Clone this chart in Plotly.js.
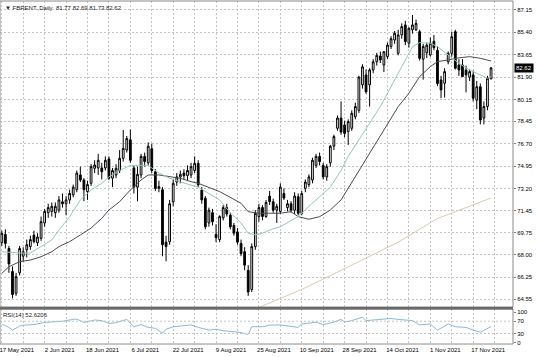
<!DOCTYPE html>
<html><head><meta charset="utf-8">
<script src="https://cdn.plot.ly/plotly-3.0.1.min.js"></script>
<style>html,body{margin:0;padding:0;background:#fff;}#chart{width:536px;height:357px;}</style>
</head><body><div id="chart"></div>
<script>
// ---- data (FBRENT daily, 17 May 2021 - 24 Nov 2021) ----
const openP = [68.96,69.6,68.5,66.7,65.0,66.6,67.9,68.4,68.65,69.55,
68.95,69.3,70.5,71.3,71.4,71.3,71.5,72.15,72.0,72.3,
72.7,73.1,74.25,73.86,72.95,73.6,74.77,74.8,74.8,74.8,
75.5,74.0,74.25,74.6,75.55,76.2,77.0,74.8,73.3,74.25,
75.7,75.2,76.3,74.5,73.2,73.1,69.0,69.04,72.16,73.7,
74.1,74.4,74.2,74.25,74.6,75.16,73.08,72.43,70.5,71.3,
69.6,69.2,70.9,71.7,71.1,70.3,69.8,68.9,68.25,66.8,
65.3,68.65,71.0,71.7,71.0,72.6,72.16,71.5,71.4,72.8,
71.7,72.0,71.5,72.55,71.25,73.2,73.5,73.86,75.0,75.7,
75.0,74.1,75.2,76.5,77.9,78.7,78.16,77.64,77.9,78.8,
79.3,81.3,82.07,81.3,82.46,83.1,83.55,82.85,83.5,84.3,
84.8,83.76,85.2,85.98,84.55,85.6,85.6,85.45,83.3,83.8,
83.63,84.7,84.0,81.68,81.42,83.1,83.76,85.45,82.85,82.85,
82.46,81.9,82.07,80.1,81.15,78.7,79.6,81.77];
const highP = [69.9,70.0,68.7,67.1,66.6,68.7,68.6,69.2,69.5,69.9,
69.7,71.0,71.6,72.0,72.1,72.1,72.6,72.8,72.6,73.1,
73.5,74.6,74.9,74.0,73.8,75.1,75.4,75.9,75.2,75.7,
75.7,74.8,75.1,76.2,77.77,77.3,77.8,75.0,74.9,75.9,
76.0,76.8,76.7,74.7,73.8,73.3,69.5,72.3,73.9,74.4,
74.6,74.7,75.0,75.2,75.7,75.4,73.3,72.6,71.7,71.6,
70.4,71.1,71.9,72.0,71.3,70.5,70.1,69.2,68.6,67.2,
68.9,71.5,72.0,71.9,72.3,73.0,72.4,72.0,73.6,73.2,
72.3,72.2,72.9,72.8,73.0,73.9,74.3,75.6,75.9,76.0,
75.2,75.1,76.6,77.4,78.9,80.0,78.5,78.6,79.3,79.9,
82.0,82.9,82.5,82.6,83.3,83.8,83.9,83.9,84.6,85.1,
85.5,85.6,86.1,86.3,85.8,86.76,86.4,85.6,84.5,84.6,
85.0,85.2,84.3,82.0,82.6,83.9,85.45,85.6,83.3,83.3,
82.8,82.5,82.4,81.6,81.4,80.0,82.0,82.69];
const lowP = [68.7,68.5,66.6,64.6,64.8,66.4,67.5,67.8,68.4,68.9,
68.7,69.1,70.2,70.9,71.0,70.9,71.3,71.7,71.1,72.0,
72.5,72.9,73.7,72.2,72.3,73.4,74.4,74.25,73.9,74.6,
73.86,73.3,74.0,74.4,75.3,76.0,75.2,72.8,72.2,74.0,
74.9,75.0,74.4,73.0,72.9,67.9,67.5,68.8,71.8,73.4,
73.6,73.9,73.8,74.0,74.4,73.3,72.0,70.0,70.2,70.3,
69.0,69.0,70.7,71.0,70.0,69.5,68.8,67.9,66.8,64.8,
65.1,68.4,70.6,70.7,70.9,71.9,71.3,70.5,71.2,72.3,
71.4,71.3,71.2,71.1,71.1,72.9,73.3,73.6,74.8,75.0,
73.9,73.8,74.9,76.2,77.7,77.4,77.2,76.6,77.7,78.6,
79.1,81.0,80.6,79.6,82.2,82.8,83.0,82.3,83.3,84.1,
84.5,83.6,84.9,84.4,84.2,85.3,85.5,83.2,81.7,83.4,
83.5,84.0,81.2,80.25,80.3,82.9,83.5,82.5,82.0,81.9,
80.7,81.6,80.0,79.4,78.2,78.2,79.3,81.73];
const closeP = [69.69,68.9,67.3,64.9,66.3,68.5,68.25,68.8,69.2,69.05,
69.4,70.6,71.4,71.7,71.8,71.8,72.3,72.0,72.3,72.8,
73.3,74.4,73.86,73.1,73.5,74.9,75.03,75.4,74.5,75.4,
74.0,74.6,74.77,75.55,76.33,77.1,75.4,73.3,74.3,75.7,
75.3,76.5,74.6,73.2,73.35,68.8,68.65,72.0,73.6,74.1,
74.3,74.2,74.6,74.9,75.16,73.47,72.3,70.2,71.5,70.6,
69.35,71.0,71.7,71.2,70.2,69.7,69.0,68.1,67.2,65.1,
68.65,71.25,71.7,71.0,72.1,72.16,71.5,71.8,73.3,72.45,
72.0,71.5,72.6,71.25,72.8,73.7,74.1,75.4,75.7,75.3,
74.1,74.9,76.5,77.25,78.7,77.6,77.5,78.42,79.07,79.6,
81.9,82.7,80.76,82.46,83.1,83.6,83.24,83.89,84.4,84.9,
85.33,85.2,85.85,84.67,85.72,85.98,86.1,83.37,84.3,84.4,
84.55,84.2,81.4,80.9,82.33,83.76,85.06,82.59,82.46,81.94,
82.07,82.33,80.25,81.15,78.55,79.6,81.81,82.62];

// moving averages, sampled at bar numbers
const maFastBar = [0,5,8,11,14,16,19,22,25,28,30,33,36,39,41,44,47,50,53,55,58,61,64,67,69,71,73,75,78,81,83,86,89,92,95,97,100,106,111,115,117,120,122,125,128,131,134,136,137];
const maFast = [68.25,68.15,68.15,68.65,69.17,69.95,70.99,72.3,73.08,73.6,74.1,74.6,75.0,75.0,75.0,74.4,74.0,73.7,73.47,73.3,72.8,72.3,71.28,70.5,69.7,69.56,69.7,69.95,70.2,70.7,71.0,71.8,72.55,73.3,74.6,75.7,77.0,79.6,82.2,84.28,84.6,84.55,84.28,83.63,82.98,82.46,82.07,81.81,81.94];
const maSlowBar = [0,2,5,8,11,14,16,19,22,25,28,30,33,36,39,41,44,47,50,53,55,61,67,69,72,78,81,83,86,89,92,95,97,100,106,111,114,117,120,122,125,127,131,134,137];
const maSlow = [66.56,67.08,67.47,67.6,67.86,68.25,68.65,69.04,69.56,70.1,70.86,71.51,72.16,73.08,73.86,74.25,74.25,74.12,73.99,73.73,73.6,72.95,72.04,71.38,71.26,71.26,71.38,70.99,70.79,70.99,71.51,72.3,73.2,74.6,77.24,79.59,80.64,81.94,82.72,83.11,83.24,83.37,83.5,83.37,83.16];
const maLongBar = [72,84,97,111,122,137];
const maLong = [63.9,65.3,67.06,69.0,70.85,72.45];

// RSI(14) sampled at bar numbers
const rsiBar = [0,2,3,5,6,9,12,14,17,20,21,23,26,28,30,32,35,37,39,41,43,45,46,48,51,53,55,58,60,62,65,67,69,70,73,75,78,81,83,84,88,90,93,95,96,98,101,102,105,107,109,111,113,115,117,120,122,125,127,130,132,134,137];
const rsiVal = [61,50,41,54,57,59,66,67,70,76,77,66,74,72,63,65,76,52,59,50,47,31,44,52,55,58,50,41,44,39,36,33,27,52,52,57,58,54,50,61,67,59,67,76,67,72,83,72,74,76,79,76,74,72,58,61,41,61,52,50,41,34,52.62];

// axes labels
const tickBars = [0,12,24,36,48,60,72,84,96,108,120,132];
const tickLabels = ['17 May 2021','2 Jun 2021','18 Jun 2021','6 Jul 2021','22 Jul 2021','9 Aug 2021','25 Aug 2021','10 Sep 2021','28 Sep 2021','14 Oct 2021','1 Nov 2021','17 Nov 2021'];
const priceTicks = [87.15,85.40,83.65,81.90,80.15,78.45,76.70,74.95,73.20,71.45,69.75,68.00,66.25,64.55];
const rsiTicks = [0,30,70,100];

const bars = openP.map((v,i)=>i);

const traces = [
  {type:'scatter',mode:'lines',x:maLongBar,y:maLong,line:{color:'#d9ccb0',width:1},xaxis:'x',yaxis:'y',hoverinfo:'skip'},
  {type:'scatter',mode:'lines',x:maSlowBar,y:maSlow,line:{color:'#4a4a58',width:1},xaxis:'x',yaxis:'y',hoverinfo:'skip'},
  {type:'scatter',mode:'lines',x:maFastBar,y:maFast,line:{color:'#93c9b8',width:1},xaxis:'x',yaxis:'y',hoverinfo:'skip'},
  {type:'candlestick',x:bars,open:openP,high:highP,low:lowP,close:closeP,xaxis:'x',yaxis:'y',
   increasing:{line:{color:'#000000',width:1},fillcolor:'#ffffff'},
   decreasing:{line:{color:'#000000',width:1},fillcolor:'#000000'},whiskerwidth:0,hoverinfo:'skip'},
  {type:'scatter',mode:'lines',x:rsiBar,y:rsiVal,line:{color:'#8ab9d9',width:1},xaxis:'x',yaxis:'y2',hoverinfo:'skip'}
];

const grid = '#c4c4c4';
const fnt = 'Liberation Sans, Arial, sans-serif';
const layout = {
  width:536,height:357,margin:{l:0,r:23,t:1,b:13},
  paper_bgcolor:'#ffffff',plot_bgcolor:'#ffffff',showlegend:false,hovermode:false,
  font:{family:fnt,size:6,color:'#000'},
  xaxis:{type:'linear',range:[-0.5,143.15],anchor:'y2',tickmode:'array',tickvals:tickBars,ticktext:tickLabels,
    showgrid:true,gridcolor:grid,griddash:'2px,2px',gridwidth:1,
    minor:{tickmode:'linear',tick0:0,dtick:6,showgrid:true,gridcolor:grid,griddash:'2px,2px',gridwidth:1},
    ticks:'',ticklabelshift:15,ticklabelstandoff:1,ticklabeloverflow:'allow',zeroline:false,showline:false,rangeslider:{visible:false},
    tickfont:{family:fnt,size:6,color:'#000'}},
  yaxis:{domain:[0.1079,1],range:[63.93,87.85],side:'right',anchor:'x',tickmode:'array',tickvals:priceTicks,
    ticktext:priceTicks.map(v=>v.toFixed(2)),showgrid:true,gridcolor:grid,griddash:'2px,2px',gridwidth:1,
    zeroline:false,showline:false,ticks:'outside',ticklen:2,tickcolor:'#808080',
    tickfont:{family:fnt,size:6,color:'#000'}},
  yaxis2:{domain:[0,0.102],range:[-4.2,109.8],side:'right',anchor:'x',tickmode:'array',tickvals:rsiTicks,
    ticktext:rsiTicks.map(String),showgrid:false,zeroline:false,showline:false,ticks:'outside',ticklen:2,tickcolor:'#808080',
    tickfont:{family:fnt,size:6,color:'#000'}},
  shapes:[
    {type:'line',xref:'x',yref:'y2',x0:-0.5,x1:143.15,y0:70,y1:70,line:{color:grid,width:1,dash:'2px,2px'}},
    {type:'line',xref:'x',yref:'y2',x0:-0.5,x1:143.15,y0:30,y1:30,line:{color:grid,width:1,dash:'2px,2px'}},
    {type:'rect',xref:'paper',yref:'paper',x0:0,x1:1,y0:0.1079,y1:1,line:{color:'#8a8a8a',width:1}},
    {type:'rect',xref:'paper',yref:'paper',x0:0,x1:1,y0:0,y1:0.102,line:{color:'#8a8a8a',width:1}},
    {type:'rect',xref:'paper',yref:'paper',x0:0,x1:1,y0:0.1006,y1:0.1079,line:{width:0},fillcolor:'#6a6a6a'}
  ],
  annotations:[
    {xref:'paper',yref:'paper',x:0,y:1,xanchor:'left',yanchor:'top',xshift:3,yshift:-2,showarrow:false,
     text:'\u25BC FBRENT.,Daily  81.77 82.69 81.73 82.62',font:{family:fnt,size:6,color:'#222'}},
    {xref:'paper',yref:'paper',x:0,y:0.102,xanchor:'left',yanchor:'top',xshift:1,yshift:-1,showarrow:false,
     text:'RSI(14) 52.6206',font:{family:fnt,size:6,color:'#222'}},
    {xref:'paper',yref:'y',x:1,y:closeP[closeP.length-1],xanchor:'left',yanchor:'middle',xshift:1,showarrow:false,
     text:closeP[closeP.length-1].toFixed(2),bgcolor:'#000',font:{family:fnt,size:6,color:'#fff'},borderpad:1}
  ]
};
Plotly.newPlot('chart',traces,layout,{staticPlot:true,displayModeBar:false});
</script></body></html>
